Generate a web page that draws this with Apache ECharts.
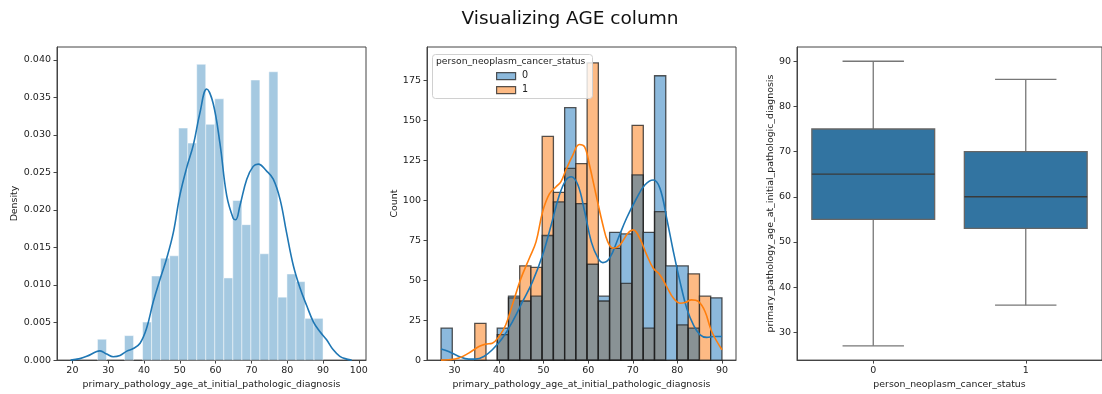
<!DOCTYPE html>
<html>
<head>
<meta charset="utf-8">
<script src="https://cdn.jsdelivr.net/npm/echarts@6/dist/echarts.min.js"></script>
<style>html,body{margin:0;padding:0;background:#fff;}#main{width:1102px;height:394px;}</style>
</head>
<body>
<div id="main"></div>
<script>
// ---------- data ----------
const ageBinEdges = [27, 29.52, 32.04, 34.56, 37.08, 39.6, 42.12, 44.64, 47.16, 49.68, 52.2, 54.72, 57.24, 59.76, 62.28, 64.8, 67.32, 69.84, 72.36, 74.88, 77.4, 79.92, 82.44, 84.96, 87.48, 90];
const densityValues = [0.00278, 0, 0, 0.00326, 0, 0.00507, 0.0112, 0.01358, 0.01389, 0.0309, 0.0289, 0.0394, 0.0314, 0.0348, 0.01094, 0.02126, 0.01804, 0.0373, 0.01416, 0.0384, 0.00838, 0.01147, 0.01045, 0.00556, 0.00556];
const countStatus0 = [20, 0, 0, 0, 0, 20, 40, 37, 40, 78, 99, 158, 98, 60, 40, 80, 79, 116, 80, 178, 59, 59, 20, 0, 39];
const countStatus1 = [0, 0, 0, 23, 0, 16, 39, 59, 58, 140, 105, 120, 123, 186, 37, 70, 48, 147, 20, 93, 0, 22, 54, 40, 0];

const kdeDensity = [[19.5,0],[22.1,0.0002],[24,0.0005],[26.8,0.00115],[27.7,0.00123],[29.6,0.0008],[31.4,0.00044],[33.3,0.0006],[35.2,0.0012],[37,0.00154],[38.9,0.00225],[40.7,0.0042],[42.6,0.0078],[44.5,0.0108],[46.3,0.0135],[48.2,0.017],[50,0.0219],[51.9,0.0256],[53.8,0.0287],[55.6,0.0329],[57.5,0.0361],[59.3,0.0342],[61.2,0.0289],[63.1,0.0219],[64.9,0.0189],[65.6,0.0187],[66.8,0.0206],[68.7,0.0241],[70.5,0.0258],[71.9,0.0261],[74.2,0.0252],[76.1,0.0241],[78,0.0214],[79.8,0.017],[81.7,0.0126],[83.5,0.0097],[85.4,0.0073],[87.3,0.0051],[89.1,0.0038],[91,0.0027],[92.8,0.0014],[94.7,0.0005],[96.6,0.00013],[98,0]];
const kdeCount0 = [[27,7],[28.7,5.4],[31,2.3],[33.2,0.6],[34.7,0.6],[36.6,2.3],[38.5,6.5],[40.8,13.8],[43,24],[45.3,36.7],[47.5,49],[49.8,66],[51.7,84.6],[53.5,103],[55,112.7],[56.2,114.8],[57.7,109.6],[59.2,93],[60.7,74],[62.2,63.8],[63.3,61],[64.8,63.8],[66.7,76],[68.6,88.8],[70.8,101],[72.7,109.6],[74.6,112.7],[76.1,107.5],[77.6,88.8],[79.1,68],[80.6,49],[82.1,32.5],[83.6,22],[85.1,15.8],[86.6,14.2],[88.1,14.8],[90,14.8]];
const kdeCount1 = [[27,0],[28.7,0.2],[31,1.3],[33.2,4.4],[35.5,8.5],[37,10],[38.5,10.6],[40,14.8],[41.5,22],[43,34.6],[44.9,51],[46.8,63.8],[48.3,74],[49.8,93],[51.3,104],[52.8,108.5],[53.9,111.7],[55,119],[56.5,128],[58,135],[59.2,133.5],[60.3,122],[61.8,103],[63.3,84.6],[64.4,74],[65.6,70],[67.1,72],[68.9,79.4],[70.1,81.5],[71.6,76],[73.1,66],[74.6,57.5],[76.1,53.3],[77.6,46],[79.1,38.8],[80.6,35.6],[81.7,36],[83.2,37.7],[84.7,36.7],[86.2,30.4],[87.7,17.9],[90,6.5]];

const boxCategories = ['0', '1'];
const boxStats = [[27, 55, 65, 75, 90], [36, 53, 60, 70, 86]]; // min, Q1, median, Q3, max

const densityTicks = [0, 0.005, 0.01, 0.015, 0.02, 0.025, 0.03, 0.035, 0.04];
const ageTicksLeft = [20, 30, 40, 50, 60, 70, 80, 90, 100];
const ageTicksMid = [30, 40, 50, 60, 70, 80, 90];
const countTicks = [0, 25, 50, 75, 100, 125, 150, 175];
const boxTicks = [30, 40, 50, 60, 70, 80, 90];

const xLabel = 'primary_pathology_age_at_initial_pathologic_diagnosis';
const hueLabel = 'person_neoplasm_cancer_status';

// ---------- build ----------
const FONT = 'DejaVu Sans';
const TXT = '#222';
const AXC = '#444';
const FS = 9.4;

const densityBars = densityValues.map((v, i) => [ageBinEdges[i], ageBinEdges[i + 1], v]);
const countBars = countStatus0.map((v, i) => [ageBinEdges[i], ageBinEdges[i + 1], v, countStatus1[i]]);
const boxData = boxStats.map((s, i) => [i].concat(s));

function valueAxis(gridIndex, min, max, ticks, fmt, extra, labelMargin) {
  return Object.assign({
    type: 'value', gridIndex, min, max,
    axisLine: {show: true, onZero: false, lineStyle: {color: AXC, width: 1}},
    axisTick: {show: true, length: 3.5, lineStyle: {color: AXC}, customValues: ticks},
    axisLabel: {color: TXT, fontFamily: FONT, fontSize: 9.5, customValues: ticks, formatter: fmt, margin: labelMargin},
    splitLine: {show: false},
    nameTextStyle: {color: TXT, fontFamily: FONT, fontSize: FS},
    nameLocation: 'middle'
  }, extra || {});
}

const option = {
  animation: false,
  backgroundColor: '#fff',
  title: {
    text: 'Visualizing AGE column', left: 565, top: 5, textAlign: 'center',
    textStyle: {fontFamily: FONT, fontSize: 18.5, fontWeight: 'normal', color: '#111'}
  },
  grid: [
    {left: 57, top: 47, width: 309, height: 315, show: true, borderColor: AXC, borderWidth: 1},
    {left: 427, top: 47, width: 309, height: 315, show: true, borderColor: AXC, borderWidth: 1},
    {left: 797, top: 47, width: 310, height: 315, show: true, borderColor: AXC, borderWidth: 1}
  ],
  xAxis: [
    valueAxis(0, 15.7, 102, ageTicksLeft, v => String(v), {name: xLabel, nameGap: 16}, 5),
    valueAxis(1, 23.85, 93.15, ageTicksMid, v => String(v), {name: xLabel, nameGap: 16}, 5),
    {
      type: 'category', gridIndex: 2, data: boxCategories, boundaryGap: true,
      axisLine: {show: true, lineStyle: {color: AXC}},
      axisTick: {show: true, alignWithLabel: true, length: 3.5, lineStyle: {color: AXC}},
      axisLabel: {color: TXT, fontFamily: FONT, fontSize: 9.5, margin: 5},
      name: hueLabel, nameLocation: 'middle', nameGap: 16,
      nameTextStyle: {color: TXT, fontFamily: FONT, fontSize: FS}
    }
  ],
  yAxis: [
    valueAxis(0, 0, 0.0417, densityTicks, v => v.toFixed(3), {name: 'Density', nameGap: 38}, 6),
    valueAxis(1, 0, 196, countTicks, v => String(v), {name: 'Count', nameGap: 28}, 6),
    valueAxis(2, 23.85, 93.15, boxTicks, v => String(v), {name: xLabel, nameGap: 20}, 6)
  ],
  series: [
    {
      type: 'custom', xAxisIndex: 0, yAxisIndex: 0, data: densityBars,
      encode: {x: [0, 1], y: 2},
      renderItem: function (params, api) {
        const v = api.value(2);
        if (!v) return null;
        const p0 = api.coord([api.value(0), v]);
        const p1 = api.coord([api.value(1), 0]);
        return {type: 'rect', shape: {x: p0[0], y: p0[1], width: p1[0] - p0[0], height: p1[1] - p0[1]},
          style: {fill: 'rgba(31,119,180,0.4)', stroke: 'rgba(255,255,255,0.6)', lineWidth: 0.8}};
      }
    },
    {
      type: 'line', xAxisIndex: 0, yAxisIndex: 0, data: kdeDensity, smooth: 0.4, symbol: 'none',
      lineStyle: {color: '#1f77b4', width: 1.6}
    },
    {
      type: 'custom', xAxisIndex: 1, yAxisIndex: 1, data: countBars,
      encode: {x: [0, 1], y: [2, 3]},
      renderItem: function (params, api) {
        const x0 = api.value(0), x1 = api.value(1), a = api.value(2), b = api.value(3);
        const children = [];
        const lo = Math.min(a, b), hi = Math.max(a, b);
        function rect(top, bottom, fill, stroke) {
          const p0 = api.coord([x0, top]);
          const p1 = api.coord([x1, bottom]);
          return {type: 'rect', shape: {x: p0[0], y: p0[1], width: p1[0] - p0[0], height: p1[1] - p0[1]},
            style: {fill: fill, stroke: stroke, lineWidth: 1.3}};
        }
        if (lo > 0) children.push(rect(lo, 0, '#899295', null));
        if (hi > lo) children.push(rect(hi, lo, a > b ? '#8cb9dc' : '#fdba84', null));
        if (a > 0) children.push(rect(a, 0, 'none', 'rgba(30,30,30,0.75)'));
        if (b > 0) children.push(rect(b, 0, 'none', 'rgba(30,30,30,0.75)'));
        return {type: 'group', children: children};
      }
    },
    {
      type: 'line', xAxisIndex: 1, yAxisIndex: 1, data: kdeCount0, smooth: 0.4, symbol: 'none',
      lineStyle: {color: '#1f77b4', width: 1.6}
    },
    {
      type: 'line', xAxisIndex: 1, yAxisIndex: 1, data: kdeCount1, smooth: 0.4, symbol: 'none',
      lineStyle: {color: '#ff7f0e', width: 1.6}
    },
    {
      type: 'custom', xAxisIndex: 2, yAxisIndex: 2, data: boxData,
      encode: {x: 0, y: [1, 2, 3, 4, 5]},
      renderItem: function (params, api) {
        const c = api.value(0);
        const mn = api.value(1), q1 = api.value(2), md = api.value(3), q3 = api.value(4), mx = api.value(5);
        const w = 153.5;
        const cx = api.coord([c, md])[0];
        const y = v => api.coord([c, v])[1];
        const ln = (xa, ya, xb, yb, col) => ({type: 'line', shape: {x1: xa, y1: ya, x2: xb, y2: yb}, style: {stroke: col, lineWidth: 1.3}});
        return {type: 'group', children: [
          ln(cx, y(q3), cx, y(mx), '#777'),
          ln(cx, y(q1), cx, y(mn), '#777'),
          ln(cx - w * 0.2, y(mx), cx + w * 0.2, y(mx), '#777'),
          ln(cx - w * 0.2, y(mn), cx + w * 0.2, y(mn), '#777'),
          {type: 'rect', shape: {x: cx - w * 0.4, y: y(q3), width: w * 0.8, height: y(q1) - y(q3)},
            style: {fill: '#3274a1', stroke: '#666', lineWidth: 1.3}},
          ln(cx - w * 0.4, y(md), cx + w * 0.4, y(md), '#3a3a3a')
        ]};
      }
    }
  ],
  graphic: [
    {type: 'rect', left: 432, top: 54, shape: {width: 160, height: 44, r: 3}, style: {fill: 'rgba(255,255,255,0.8)', stroke: '#d0d0d0', lineWidth: 1}, z: 100},
    {type: 'text', left: 436, top: 57, style: {text: hueLabel, fontFamily: FONT, fontSize: 9.2, fill: TXT}, z: 101},
    {type: 'rect', left: 496, top: 72, shape: {width: 19, height: 7}, style: {fill: '#8cb9dc', stroke: 'rgba(30,30,30,0.75)', lineWidth: 1.2}, z: 101},
    {type: 'text', left: 522, top: 70, style: {text: '0', fontFamily: FONT, fontSize: 9.6, fill: TXT}, z: 101},
    {type: 'rect', left: 496, top: 86, shape: {width: 19, height: 7}, style: {fill: '#fdba84', stroke: 'rgba(30,30,30,0.75)', lineWidth: 1.2}, z: 101},
    {type: 'text', left: 522, top: 84, style: {text: '1', fontFamily: FONT, fontSize: 9.6, fill: TXT}, z: 101}
  ]
};

const chart = echarts.init(document.getElementById('main'), null, {renderer: 'canvas'});
chart.setOption(option);
</script>
</body>
</html>
